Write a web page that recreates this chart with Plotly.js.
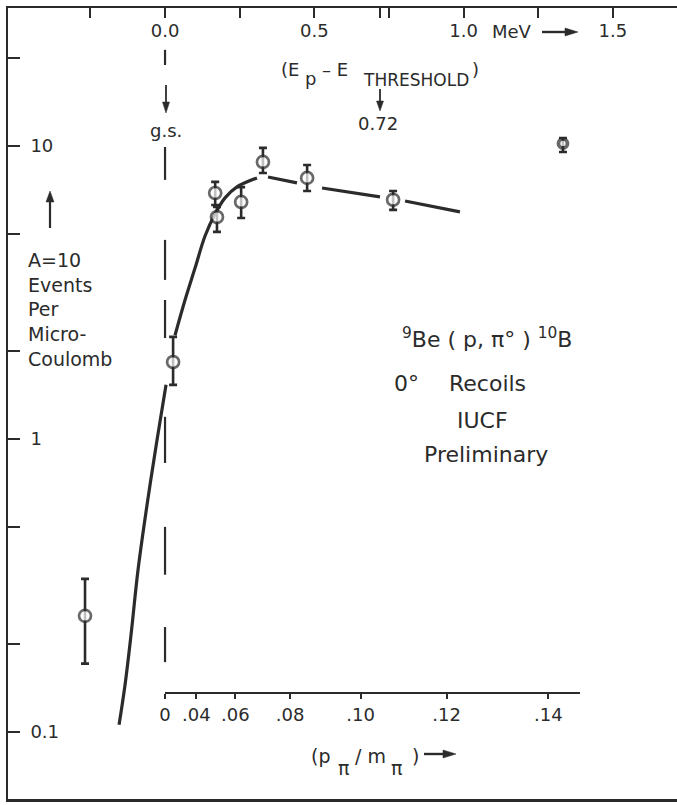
<!DOCTYPE html>
<html>
<head>
<meta charset="utf-8">
<script src="https://cdn.plot.ly/plotly-3.0.1.min.js"></script>
<style>
html, body { margin: 0; padding: 0; background: #ffffff; }
#chart { width: 677px; height: 805px; }
</style>
</head>
<body>
<div id="chart"></div>
<script>
// ---------------- data ----------------
// x: E_p - E_threshold in MeV (top axis), y: A=10 events per microcoulomb
const energyMeV  = [-0.268, 0.027, 0.168, 0.174, 0.255, 0.328, 0.476, 0.764, 1.333];
const events     = [0.249, 1.83, 6.91, 5.72, 6.44, 8.82, 7.78, 6.55, 10.2];
const eventsHigh = [0.333, 2.23, 7.54, 6.19, 7.24, 9.85, 8.61, 7.02, 10.65];
const eventsLow  = [0.171, 1.53, 6.29, 5.09, 5.68, 8.09, 7.02, 6.05, 9.54];

// hand-drawn curve (segments separated by null where the drawing is broken)
const curveMeV    = [-0.154, -0.134, -0.1139, -0.0905, -0.0603, -0.0268, 0.0034, null,
                     0.0335, 0.067, 0.1005, 0.134, 0.1675, 0.201, 0.241, 0.308, null,
                     0.345, 0.442, null,
                     0.526, 0.720, null,
                     0.804, 0.988];
const curveEvents = [0.1057, 0.1446, 0.2144, 0.357, 0.595, 0.992, 1.53, null,
                     2.26, 2.98, 3.83, 4.93, 5.86, 6.65, 7.25, 7.78, null,
                     7.84, 7.48, null,
                     7.19, 6.70, null,
                     6.49, 5.96];

// ground-state threshold marker (dashed vertical line)
const gsMeV = 0.0;
const gsDashEvents = [21.3, 18.9, null, 9.92, 7.66, null, 4.78, 3.49, null, 2.98, 2.21, null,
                      1.19, 0.828, null, 0.501, 0.344, null, 0.228, 0.173];

// axes
const energyTicks      = [0, 0.5, 1.0, 1.5];
const energyTickText   = ["0.0", "0.5", "1.0", "1.5"];
const energyMinorTicks = [-0.25, 0.25, 0.72, 0.75, 1.25];
const yTicks      = [0.1, 1, 10];
const yTickText   = ["0.1", "1", "10"];
const yMinorTicks = [0.2, 0.5, 2, 5, 20];
const pmTicks    = [0, 0.04, 0.06, 0.08, 0.10, 0.12, 0.14];
const pmTickText = ["0", ".04", ".06", ".08", ".10", ".12", ".14"];
const MEV_PER_PM2 = 65.5;   // E_p - E_thr  ≈ 65.5 · (p_π/m_π)^2

// ---------------- layout helpers ----------------
const W = 677, H = 805, ML = 8, MR = 0, MT = 8, MB = 6;
const PW = W - ML - MR, PH = H - MT - MB;
const xRange = [-0.526, 1.715];
const yRange = [-1.229, 1.471];
const INK = '#2b2b2b';
const FONT = 'DejaVu Sans, Arial, sans-serif';
const X = px => (px - ML) / PW;
const Y = py => (H - MB - py) / PH;

const gsX = gsDashEvents.map(v => v === null ? null : gsMeV);
const last = energyMeV.length - 1;

const traces = [
  { x: gsX, y: gsDashEvents, mode: 'lines', line: { color: INK, width: 2.2 },
    hoverinfo: 'skip', showlegend: false },
  { x: curveMeV, y: curveEvents, mode: 'lines', line: { color: INK, width: 3.2, shape: 'spline', smoothing: 1 },
    connectgaps: false, hoverinfo: 'skip', showlegend: false },
  // error bars (drawn beneath the open circles)
  { x: energyMeV, y: events, mode: 'markers',
    marker: { size: 1, color: 'rgba(0,0,0,0)' },
    error_y: { type: 'data', symmetric: false,
               array: eventsHigh.map((h, i) => h - events[i]),
               arrayminus: eventsLow.map((l, i) => events[i] - l),
               color: INK, thickness: 2.6, width: 4 },
    hoverinfo: 'skip', showlegend: false },
  // open circles
  { x: energyMeV, y: events, mode: 'markers',
    marker: { symbol: 'circle', size: energyMeV.map((_, i) => i === last ? 9 : 12),
              color: '#ffffff',
              line: { color: INK, width: energyMeV.map((_, i) => i === last ? 3.8 : 2.7) } },
    showlegend: false }
];

// bottom p/m axis: starts at p=0 (E=0) and ends at pixel 580
const d0 = (0 - xRange[0]) / (xRange[1] - xRange[0]);
const d1 = X(580);
const r2 = [xRange[0] + d0 * (xRange[1] - xRange[0]), xRange[0] + d1 * (xRange[1] - xRange[0])];

const txt = (x, y, text, size, xanchor, extra) => Object.assign({
  xref: 'paper', yref: 'paper', x: X(x), y: Y(y), text: text, showarrow: false,
  xanchor: xanchor || 'center', yanchor: 'middle',
  font: { family: FONT, size: size, color: INK }
}, extra || {});

// arrow drawn as a shaft line plus a filled head (pixel coords -> paper)
function arrowShapes(x1, y1, x2, y2, w, headLen, headHalf) {
  const dx = x2 - x1, dy = y2 - y1, L = Math.hypot(dx, dy);
  const ux = dx / L, uy = dy / L;
  const bx = x2 - ux * headLen, by = y2 - uy * headLen;
  const px = -uy * headHalf, py = ux * headHalf;
  return [
    { type: 'line', xref: 'paper', yref: 'paper', x0: X(x1), y0: Y(y1), x1: X(bx), y1: Y(by),
      line: { color: INK, width: w } },
    { type: 'path', xref: 'paper', yref: 'paper',
      path: `M ${X(x2)},${Y(y2)} L ${X(bx + px)},${Y(by + py)} L ${X(bx - px)},${Y(by - py)} Z`,
      fillcolor: INK, line: { color: INK, width: 0.5 } }
  ];
}

const shapes = [].concat(
  arrowShapes(166, 85, 166, 113, 1.8, 11, 3.5),
  arrowShapes(380, 89, 380, 111, 1.8, 10, 3.5),
  arrowShapes(542, 32, 578, 32, 2.4, 13, 4),
  arrowShapes(50, 228, 50, 191, 2.2, 11, 4),
  arrowShapes(424, 754, 456, 754, 2.4, 13, 4)
);

const annotations = [
  txt(166, 130, 'g.s.', 18),
  txt(301, 69, '(E', 18, 'right'),
  txt(303, 79, 'p', 18, 'left'),
  txt(320, 69, '– E', 18, 'left'),
  txt(361, 80, 'THRESHOLD', 17, 'left'),
  txt(470, 69, ')', 18, 'left'),
  txt(378, 123, '0.72', 18),
  txt(490, 32, 'MeV', 18, 'left'),
  txt(26, 309, 'A=10<br>Events<br>Per<br>Micro-<br>Coulomb', 19, 'left', { align: 'left' }),
  txt(487, 338, '<sup>9</sup>Be ( p, π° ) <sup>10</sup>B', 22),
  txt(406, 383, '0°', 22),
  txt(487, 383, 'Recoils', 22),
  txt(482, 420, 'IUCF', 22),
  txt(486, 454, 'Preliminary', 22),
  txt(332, 756, '(p', 19, 'right'),
  txt(343, 768, 'π', 19),
  txt(353, 756, '/ m', 19, 'left'),
  txt(396, 768, 'π', 19),
  txt(410, 756, ')', 19, 'left')
];

const layout = {
  width: W, height: H,
  margin: { l: ML, r: MR, t: MT, b: MB, pad: 0 },
  paper_bgcolor: '#ffffff', plot_bgcolor: 'rgba(0,0,0,0)',
  showlegend: false,
  xaxis: {
    range: xRange, side: 'top', showgrid: false, zeroline: false,
    showline: true, mirror: true, linecolor: INK, linewidth: 2.5,
    ticks: 'inside', ticklen: 10, tickwidth: 2, tickcolor: INK,
    tickmode: 'array', tickvals: energyTicks, ticktext: energyTickText,
    minor: { tickmode: 'array', tickvals: energyMinorTicks, ticks: 'inside', ticklen: 10, tickwidth: 2, tickcolor: INK, showgrid: false },
    ticklabelposition: 'inside', ticklabelstandoff: 7,
    tickfont: { family: FONT, size: 18, color: INK }
  },
  xaxis2: {
    domain: [d0, d1], range: r2, anchor: 'free', position: Y(693), side: 'bottom',
    showgrid: false, zeroline: false, showline: true, linecolor: INK, linewidth: 2.2,
    ticks: 'outside', ticklen: 5, tickwidth: 2, tickcolor: INK,
    tickmode: 'array', tickvals: pmTicks.map(p => MEV_PER_PM2 * p * p), ticktext: pmTickText,
    ticklabelstandoff: 0,
    tickfont: { family: FONT, size: 18, color: INK }
  },
  yaxis: {
    type: 'log', range: yRange, showgrid: false, zeroline: false,
    showline: true, linecolor: INK, linewidth: 2.5,
    ticks: 'inside', ticklen: 12, tickwidth: 2, tickcolor: INK,
    tickmode: 'array', tickvals: yTicks, ticktext: yTickText,
    minor: { tickmode: 'array', tickvals: yMinorTicks, ticks: 'inside', ticklen: 12, tickwidth: 2, tickcolor: INK, showgrid: false },
    ticklabelposition: 'inside', ticklabelstandoff: 11,
    tickfont: { family: FONT, size: 18, color: INK }
  },
  shapes: shapes,
  annotations: annotations
};

// invisible trace so xaxis2 is drawn
traces.push({ x: [r2[0]], y: [1], xaxis: 'x2', yaxis: 'y', mode: 'markers',
  marker: { opacity: 0 }, hoverinfo: 'skip', showlegend: false });

Plotly.newPlot('chart', traces, layout, { staticPlot: true, displayModeBar: false });
</script>
</body>
</html>
